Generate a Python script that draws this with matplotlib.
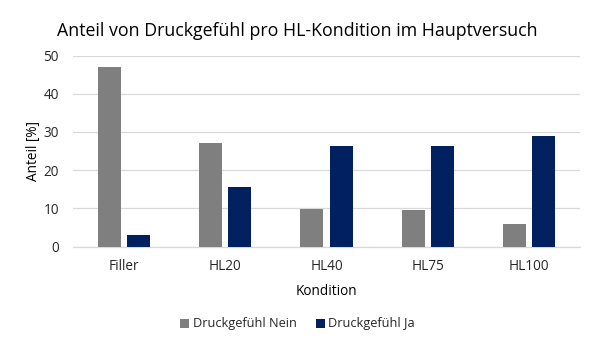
import numpy as np
import matplotlib
matplotlib.use("Agg")
import matplotlib.pyplot as plt

plt.rcParams["font.family"] = ["Open Sans", "DejaVu Sans"]

categories = ["Filler", "HL20", "HL40", "HL75", "HL100"]
nein = [47.0, 27.1, 9.8, 9.5, 5.8]
ja = [3.1, 15.6, 26.4, 26.4, 28.8]
series_names = ["Druckgefühl Nein", "Druckgefühl Ja"]

fig = plt.figure(figsize=(5.95, 3.55), dpi=100)
ax = fig.add_axes([73 / 595, (355 - 246.5) / 355, (580 - 73) / 595, (246.5 - 55.5) / 355])

x = np.arange(len(categories))
w = 0.227
off = (w + 0.06) / 2
ax.bar(x - off, nein, width=w, color="#7F7F7F", label=series_names[0], zorder=3)
ax.bar(x + off, ja, width=w, color="#002060", label=series_names[1], zorder=3)

ax.set_xlim(-0.5, len(categories) - 0.5)
ax.set_ylim(0, 50)
ax.set_yticks(range(0, 51, 10))
ax.set_xticks(x)
ax.set_xticklabels(categories)
ax.tick_params(axis="both", length=0, labelsize=9.8, colors="#262626")
ax.tick_params(axis="x", pad=9)
ax.tick_params(axis="y", pad=10)
ax.grid(axis="y", color="#D9D9D9", linewidth=0.9, zorder=0)
for s in ["top", "right", "left"]:
    ax.spines[s].set_visible(False)
ax.spines["bottom"].set_color("#D9D9D9")
ax.spines["bottom"].set_linewidth(0.9)

ax.set_xlabel("Kondition", fontsize=9.8, color="#000000", labelpad=7)
ax.set_ylabel("Anteil [%]", fontsize=9.8, color="#000000", labelpad=2)
fig.text(0.5, 1 - 31 / 355, "Anteil von Druckgefühl pro HL-Kondition im Hauptversuch",
         ha="center", va="center", fontsize=12.8, color="#000000")

fig.legend(loc="center", bbox_to_anchor=(0.5, 1 - 324 / 355), ncol=2, frameon=False,
           fontsize=9.2, handlelength=0.7, handleheight=0.7, handletextpad=0.3,
           columnspacing=1.5, labelcolor="#262626")

fig.savefig("out.png", dpi=100)
